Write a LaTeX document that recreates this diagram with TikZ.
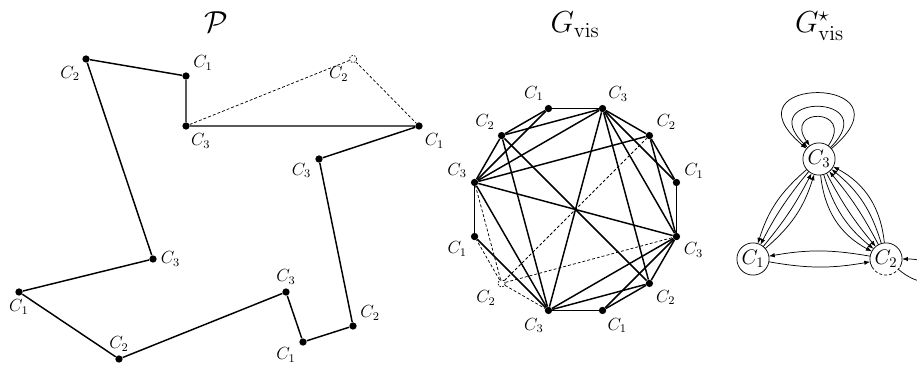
\documentclass[tikz,border=0pt]{standalone}
\usepackage{amsmath,amssymb}
\usetikzlibrary{arrows.meta,positioning}
\tikzset{
  vtx/.style={circle,fill,inner sep=0pt,minimum size=5pt},
  ghost/.style={circle,draw,dash pattern=on 1pt off 1pt,line width=0.5pt,inner sep=0pt,minimum size=5pt},
  side/.style={line width=1pt},
  gone/.style={dash pattern=on 2pt off 1.4pt,line width=0.5pt},
  cls/.style={circle,inner sep=0pt,outer sep=0pt,minimum size=22pt,line width=0.5pt,font=\Large},
  flow/.style={-{Latex[length=4pt,width=3pt]},line width=0.5pt},
  ttl/.style={anchor=base,font=\huge},
  every label/.append style={font=\large,inner sep=2.5pt}
}

\begin{document}
\begin{tikzpicture}[x=0.24mm,y=0.24mm]
  \useasboundingbox (0,0) rectangle (917,365);
  \clip (0,0) rectangle (917,365);

  \node[ttl] (tp) at (216.7,332) {$\mathcal{P}$};
  \node[ttl] (tv) at (575,332) {$G_{\mathrm{vis}}$};
  \node[ttl] (ts) at (819.5,332) {$G^{\star}_{\mathrm{vis}}$};

  \node[vtx,label=234:$C_2$] (pa) at (86,306) {};
  \node[vtx,label=29:$C_1$] (pb) at (186,289) {};
  \node[vtx,label=-74:$C_3$] (pc) at (186,239) {};
  \node[ghost,label=-100:$C_2$] (px) at (353,306) {};
  \node[vtx,label=-61:$C_1$] (pd) at (419,239) {};
  \node[vtx,label=183:$C_3$] (pe) at (319,206) {};
  \node[vtx,label=28:$C_2$] (pf) at (353,39) {};
  \node[vtx,label=208:$C_1$] (pg) at (303,23) {};
  \node[vtx,label=90:$C_3$] (ph) at (286,73) {};
  \node[vtx,label=90:$C_2$] (pi) at (119,6) {};
  \node[vtx,label=-92:$C_1$] (pj) at (19,73) {};
  \node[vtx,label=0:$C_3$] (pk) at (153,106) {};
  \draw[side] (pa) -- (pb) -- (pc) -- (pd) -- (pe) -- (pf) -- (pg) -- (ph) -- (pi) -- (pj) -- (pk) -- (pa);
  \draw[gone] (pc) -- (px) -- (pd);

  \begin{scope}[shift={(575.5,155.5)}]
    \node[vtx,label=-45:$C_2$] (va) at (-45:104.5) {};
    \node[vtx,label=-75:$C_1$] (vb) at (-75:104.5) {};
    \node[vtx,label=-105:$C_3$] (vc) at (-105:104.5) {};
    \node[ghost,label=-120:$C_2$] (vx) at (-135:104.5) {};
    \node[vtx,label=-165:$C_1$] (vd) at (-165:104.5) {};
    \node[vtx,label=170:$C_3$] (ve) at (165:104.5) {};
    \node[vtx,label=140:$C_2$] (vf) at (135:104.5) {};
    \node[vtx,label=105:$C_1$] (vg) at (105:104.5) {};
    \node[vtx,label=60:$C_3$] (vh) at (75:104.5) {};
    \node[vtx,label=35:$C_2$] (vi) at (45:104.5) {};
    \node[vtx,label=5:$C_1$] (vj) at (15:104.5) {};
    \node[vtx,label=-30:$C_3$] (vk) at (-15:104.5) {};
  \end{scope}
  \foreach \u/\v in {a/b,b/c,d/e,e/f,f/g,g/h,h/i,i/j,j/k,k/a,a/c,a/f,a/h,b/k,c/d,c/e,c/f,c/h,c/k,e/g,e/h,e/i,e/k,f/h,h/j,h/k,i/k}
    \draw[side] (v\u) -- (v\v);
  \foreach \v in {c,d,e,i,k}
    \draw[gone] (vx) -- (v\v);

  \node[cls,draw] (s3) at (819,206) {$C_3$};
  \node[cls,draw] (s1) at (753,106) {$C_1$};
  \node[cls] (s2) at (886,106) {$C_2$};
  \draw[line width=0.5pt] (s2.-30) arc[start angle=-30,end angle=210,radius=11pt];
  \draw[gone] (s2.210) arc[start angle=210,end angle=330,radius=11pt];
  \draw[flow] (s3) to[out=40,in=140,distance=27.7mm] (s3);
  \draw[flow] (s3) to[out=45,in=135,distance=18.5mm] (s3);
  \draw[flow] (s3) to[out=55,in=125,distance=11.3mm] (s3);
  \foreach \b in {6,16} {
    \draw[flow] (s3) to[bend right=\b] (s1);
    \draw[flow] (s1) to[bend right=\b] (s3);
  }
  \foreach \b in {6,17,28} {
    \draw[flow] (s3) to[bend right=\b] (s2);
    \draw[flow] (s2) to[bend right=\b] (s3);
  }
  \draw[flow] (s1) to[bend right=10] (s2);
  \draw[flow] (s2) to[bend right=10] (s1);
  \draw[flow] (s2) to[out=-40,in=0,distance=12mm] (s2);
\end{tikzpicture}
\end{document}
